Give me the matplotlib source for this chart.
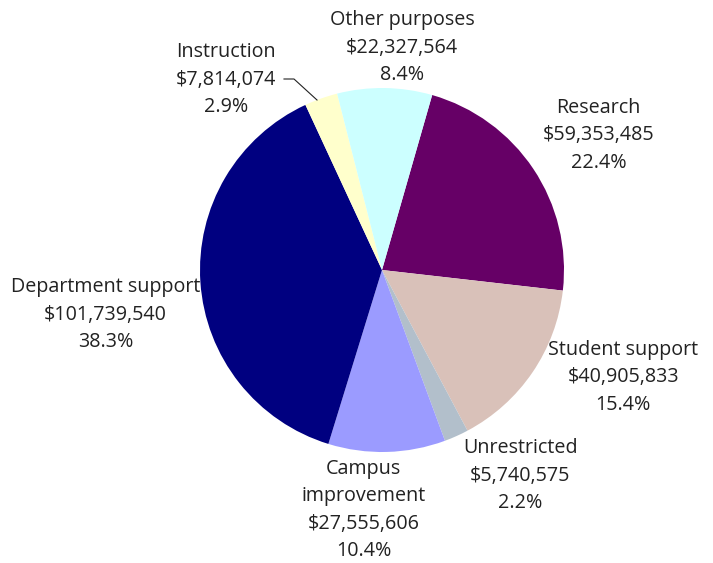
import matplotlib
matplotlib.use("Agg")
import matplotlib.pyplot as plt

categories = ["Research", "Student support", "Unrestricted", "Campus\nimprovement",
              "Department support", "Instruction", "Other purposes"]
amounts = [59353485, 40905833, 5740575, 27555606, 101739540, 7814074, 22327564]
percents = ["22.4%", "15.4%", "2.2%", "10.4%", "38.3%", "2.9%", "8.4%"]
colors = ["#660066", "#D9C1B9", "#B2BFCB", "#9B9BFF", "#000080", "#FFFFCC", "#CCFFFF"]

# label positions in pie-radius units (layout, not data)
label_pos = [(1.19, 0.74), (1.325, -0.59), (0.76, -1.13), (-0.10, -1.32),
             (-1.52, -0.245), (-0.855, 1.045), (0.11, 1.22)]

W, H = 713, 563
fig = plt.figure(figsize=(W / 100, H / 100), dpi=100)
cx, cy, r = 382, 270, 182
ax = fig.add_axes([(cx - r) / W, (H - cy - r) / H, 2 * r / W, 2 * r / H])

ax.pie(amounts, colors=colors, startangle=74, counterclock=False,
       radius=1, wedgeprops=dict(linewidth=0), frame=False)
ax.set_xlim(-1, 1)
ax.set_ylim(-1, 1)
ax.set_aspect("equal")
ax.axis("off")

for cat, amt, pct, (x, y) in zip(categories, amounts, percents, label_pos):
    txt = f"{cat}\n${amt:,}\n{pct}"
    ax.text(x, y, txt, ha="center", va="center", fontsize=14.2,
            family=["Open Sans", "DejaVu Sans"], color="#222222",
            linespacing=1.5, clip_on=False)

# leader line for Instruction
def px2d(px, py):
    return ((px - cx) / r, (cy - py) / r)

pts = [px2d(284, 79), px2d(294, 79), px2d(317, 100)]
ax.plot([p[0] for p in pts], [p[1] for p in pts], color="#222222", lw=0.8,
        clip_on=False)

fig.savefig("out.png", dpi=100)
